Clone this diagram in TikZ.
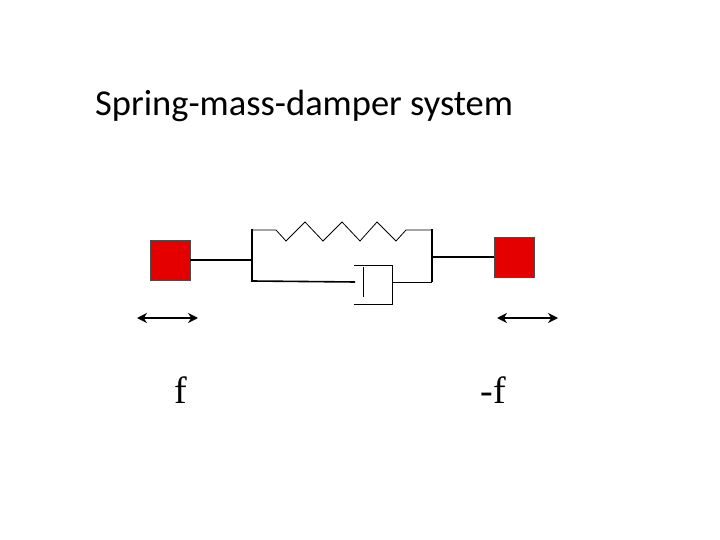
\documentclass[tikz,border=0pt]{standalone}
\usepackage{fontspec}
\setmainfont{Carlito}
\newfontfamily\timesf{Liberation Serif}
\usetikzlibrary{arrows.meta}
\tikzset{
mass/.style={draw=black!70, fill=red!90!black, minimum size=40pt, inner sep=0pt},
barra/.style={line width=1.6pt},
fino/.style={line width=0.8pt},
forca/.style={line width=2.4pt, {Stealth[length=10pt,width=10pt]}-{Stealth[length=10pt,width=10pt]}}
}
\begin{document}
\begin{tikzpicture}[x=1pt,y=-1pt]
    \useasboundingbox (0,0) rectangle (720,540);
    \node[anchor=west, inner sep=0pt, font=\fontsize{36.5}{40}\selectfont] (title) at (95,106) {Spring-mass-damper system};

    % masses
    \node[mass] (m1) at (170,260) {};
    \node[mass] (m2) at (514,257) {};

    % end plates
    \coordinate (pl1) at (252,229); \coordinate (pl2) at (252,282);
    \coordinate (pr1) at (432,229); \coordinate (pr2) at (432,282);
    \draw[barra] (pl1) -- (pl2);
    \draw[barra] (pr1) -- (pr2);
    \draw[barra] (m1.east) -- (252,260);
    \draw[barra] (m2.west) -- (432,257);

    % spring
    \draw[fino] (252,230) -- (276,230) -- (286,241) -- (305,222) -- (323,241) -- (342,222)
        -- (360,241) -- (377,222) -- (396,241) -- (406,230) -- (431,230);

    % damper
    \draw[barra] (252,281) -- (355,282);
    \draw[fino] (363,267) -- (363,297);
    \draw[fino] (354,265) -- (392,265) -- (392,304) -- (354,304);
    \draw[fino] (392,282) -- (432,282);

    % forces
    \coordinate (a1) at (137,318); \coordinate (b1) at (198,318);
    \coordinate (a2) at (497,318); \coordinate (b2) at (558,318);
    \draw[forca] (a1) -- (b1);
    \draw[forca] (a2) -- (b2);
    \node[font=\timesf\fontsize{38}{42}\selectfont] (f1) at (181,390) {f};
    \node[font=\timesf\fontsize{38}{42}\selectfont] (f2) at (493,390) {-f};
\end{tikzpicture}
\end{document}
